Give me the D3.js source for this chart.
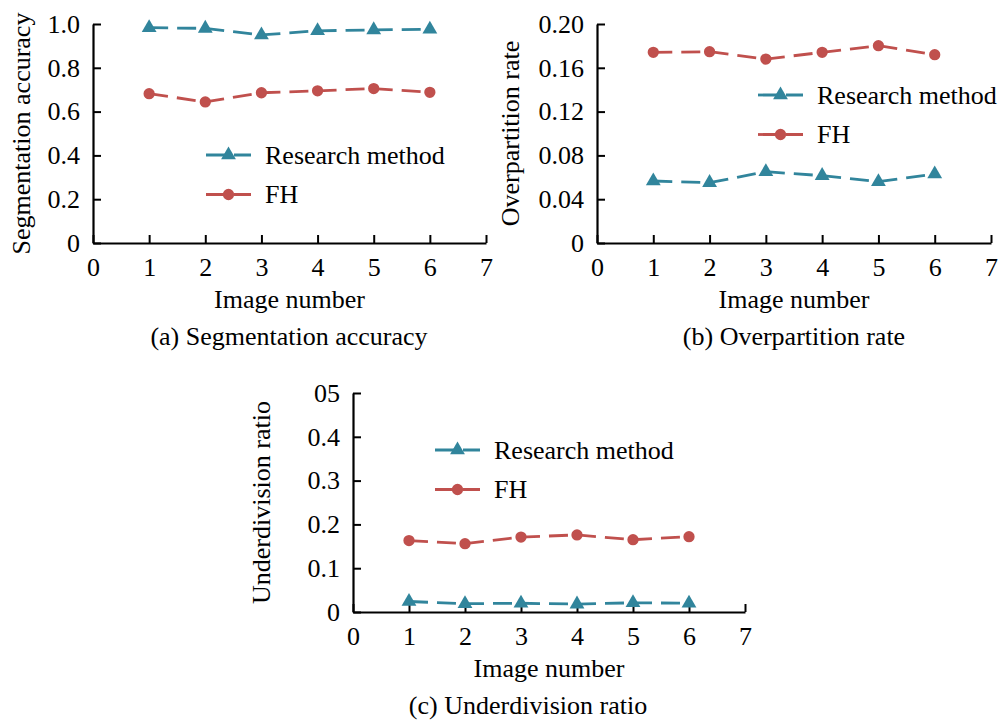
<!DOCTYPE html>
<html>
<head>
<meta charset="utf-8">
<script src="https://cdn.jsdelivr.net/npm/d3@7"></script>
<style>
  body { margin: 0; background: #fff; }
</style>
</head>
<body>
<div id="main-vis"></div>
<script>
// image numbers on the x axis
var imageNumbers = [1, 2, 3, 4, 5, 6];
var xTicks = [0, 1, 2, 3, 4, 5, 6, 7];
var seriesNames = ["Research method", "FH"];

// (a) segmentation accuracy
var accuracyResearch = [0.983, 0.980, 0.950, 0.969, 0.973, 0.976];
var accuracyFH = [0.682, 0.644, 0.686, 0.695, 0.705, 0.688];
var accuracyTicks = [0, 0.2, 0.4, 0.6, 0.8, 1.0];
var accuracyTickLabels = ["0", "0.2", "0.4", "0.6", "0.8", "1.0"];

// (b) overpartition rate
var overResearch = [0.0566, 0.0551, 0.0651, 0.0615, 0.0560, 0.0630];
var overFH = [0.1741, 0.1747, 0.1680, 0.1741, 0.1802, 0.1720];
var overTicks = [0, 0.04, 0.08, 0.12, 0.16, 0.20];
var overTickLabels = ["0", "0.04", "0.08", "0.12", "0.16", "0.20"];

// (c) underdivision ratio
var underResearch = [0.024, 0.019, 0.020, 0.018, 0.021, 0.020];
var underFH = [0.163, 0.156, 0.171, 0.176, 0.165, 0.172];
var underTicks = [0, 0.1, 0.2, 0.3, 0.4, 0.5];
var underTickLabels = ["0", "0.1", "0.2", "0.3", "0.4", "05"];

var teal = "#31859C", red = "#C0504D";
var fontSize = 26;
var serif = "'Liberation Serif', 'DejaVu Serif', serif";

var svg = d3.select("#main-vis").append("svg")
  .attr("width", 1005)
  .attr("height", 722)
  .style("font-family", serif);

function label(sel) {
  return sel.style("font-family", serif)
    .style("font-size", fontSize + "px")
    .attr("fill", "#000");
}

function drawPanel(p) {
  var x = d3.scaleLinear().domain([0, 7]).range([0, p.width]);
  var y = d3.scaleLinear().domain([0, p.yMax]).range([p.height, 0]);

  var g = svg.append("g")
    .attr("transform", "translate(" + p.left + "," + p.top + ")");

  var xAxis = g.append("g")
    .attr("transform", "translate(0," + p.height + ")")
    .call(d3.axisBottom(x).tickValues(xTicks).tickFormat(d3.format("d"))
      .tickSizeInner(-8).tickSizeOuter(0).tickPadding(15));

  var yAxis = g.append("g")
    .call(d3.axisLeft(y).tickValues(p.ticks)
      .tickFormat(function (d, i) { return p.tickLabels[i]; })
      .tickSizeInner(-8).tickSizeOuter(0).tickPadding(13));

  [xAxis, yAxis].forEach(function (ax) {
    ax.attr("font-family", serif).attr("font-size", fontSize);
    ax.select(".domain").attr("stroke", "#000").attr("stroke-width", 2.2);
    ax.selectAll(".tick line").attr("stroke", "#000").attr("stroke-width", 2);
    label(ax.selectAll(".tick text"));
  });

  // axis titles and caption
  label(g.append("text"))
    .attr("x", p.width / 2).attr("y", p.height + 65)
    .attr("text-anchor", "middle")
    .text("Image number");

  label(g.append("text"))
    .attr("x", p.captionX).attr("y", p.height + 102)
    .attr("text-anchor", "middle")
    .text(p.caption);

  label(g.append("text"))
    .attr("transform", "translate(" + p.yTitleX + "," + (p.height / 2) + ") rotate(-90)")
    .attr("text-anchor", "middle")
    .text(p.yTitle);

  var series = [
    { name: seriesNames[0], values: p.research, color: teal, marker: "triangle" },
    { name: seriesNames[1], values: p.fh, color: red, marker: "circle" }
  ];

  series.forEach(function (s) {
    var pts = imageNumbers.map(function (n, i) { return [n, s.values[i]]; });
    // dashed segments, pattern restarts at each point
    g.selectAll(null)
      .data(d3.pairs(pts))
      .enter().append("line")
      .attr("x1", function (d) { return x(d[0][0]); })
      .attr("y1", function (d) { return y(d[0][1]); })
      .attr("x2", function (d) { return x(d[1][0]); })
      .attr("y2", function (d) { return y(d[1][1]); })
      .attr("stroke", s.color)
      .attr("stroke-width", 2.8)
      .attr("stroke-dasharray", "19,9");

    g.selectAll(null)
      .data(pts)
      .enter().append("path")
      .attr("d", marker(s.marker))
      .attr("transform", function (d) { return "translate(" + x(d[0]) + "," + y(d[1]) + ")"; })
      .attr("fill", s.color);
  });

  // legend
  var leg = g.append("g")
    .attr("transform", "translate(" + p.legendX + "," + p.legendY + ")");
  series.forEach(function (s, i) {
    var row = leg.append("g").attr("transform", "translate(0," + (i * 39.5) + ")");
    row.append("line")
      .attr("x1", 0).attr("x2", 45).attr("y1", 0).attr("y2", 0)
      .attr("stroke", s.color).attr("stroke-width", 2.8)
      .attr("stroke-dasharray", "19,9");
    row.append("path")
      .attr("d", marker(s.marker))
      .attr("transform", "translate(22.5,0)")
      .attr("fill", s.color);
    label(row.append("text"))
      .attr("x", 59).attr("y", 0).attr("dy", "0.34em")
      .text(s.name);
  });
}

function marker(type) {
  if (type === "triangle") return d3.symbol(d3.symbolTriangle, 95)();
  return d3.symbol(d3.symbolCircle, 100)();
}

drawPanel({
  left: 93, top: 24, width: 393, height: 219, yMax: 1.0,
  ticks: accuracyTicks, tickLabels: accuracyTickLabels,
  research: accuracyResearch, fh: accuracyFH,
  yTitle: "Segmentation accuracy", yTitleX: -63,
  caption: "(a) Segmentation accuracy", captionX: 196,
  legendX: 113, legendY: 131
});

drawPanel({
  left: 597, top: 24, width: 394, height: 219, yMax: 0.20,
  ticks: overTicks, tickLabels: overTickLabels,
  research: overResearch, fh: overFH,
  yTitle: "Overpartition rate", yTitleX: -78,
  caption: "(b) Overpartition rate", captionX: 197,
  legendX: 161, legendY: 71
});

drawPanel({
  left: 353, top: 393, width: 392, height: 219, yMax: 0.5,
  ticks: underTicks, tickLabels: underTickLabels,
  research: underResearch, fh: underFH,
  yTitle: "Underdivision ratio", yTitleX: -83,
  caption: "(c) Underdivision ratio", captionX: 175,
  legendX: 82, legendY: 57
});
</script>
</body>
</html>
